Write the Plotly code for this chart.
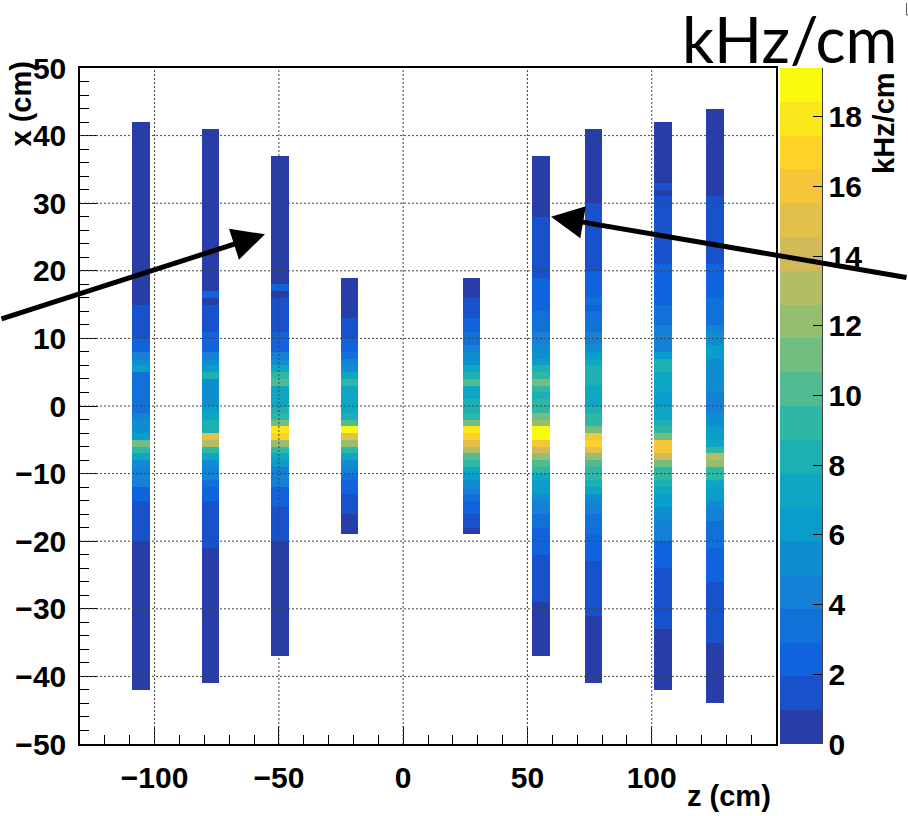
import numpy as np
import plotly.graph_objects as go

# ---- hit-rate map: 2D histogram, z bins of 7 cm (-130..150), x bins of 1 cm (-50..50)
Z_EDGES = np.arange(-130, 151, 7)
X_EDGES = np.arange(-50, 51, 1)

# centre (z, cm) and upper x edge (cm) of each chamber strip
STRIP_Z = [-105.5, -77.5, -49.5, -21.5, 27.5, 55.5, 76.5, 104.5, 125.5]
STRIP_TOP = [42, 41, 37, 19, 19, 37, 41, 42, 44]

# rates in kHz/cm, one value per 1 cm x-bin, listed from the top of the strip downwards
RATE_1 = [0.5] * 27 + [1.5] * 5 + [2.4, 2.4, 4.4, 5.3, 6.3] + [3.4] * 6 + [
    4.4, 5.3, 5.3, 6.3, 11.2, 9.2, 7.3, 5.3, 4.4, 4.4, 4.4, 2.4, 2.4] + [1.5] * 6 + [0.5] * 22
RATE_2 = [0.5] * 24 + [2.4, 0.5] + [1.5] * 4 + [2.4, 2.4, 2.4, 4.4, 5.3, 6.3, 8.2,
    5.3, 5.3, 5.3, 5.3, 6.3, 7.3, 8.2, 8.2, 15.0, 13.1, 9.2, 7.3, 5.3, 4.4, 4.4,
    3.4, 2.4, 2.4] + [1.5] * 7 + [0.5] * 20
RATE_3 = [0.5] * 19 + [2.4, 0.5] + [1.5] * 5 + [2.4, 2.4, 2.4, 4.4, 5.3, 7.3, 9.2,
    10.2, 7.3, 7.3, 7.3, 8.2, 9.2, 11.2, 18.0, 17.0, 12.1, 9.2, 7.3, 6.3, 4.4, 4.4,
    4.4, 2.4, 2.4, 2.4] + [1.5] * 5 + [0.5] * 17
RATE_4 = [0.5] * 6 + [1.5, 1.5, 1.5, 2.4, 2.4, 3.4, 4.4, 5.3, 7.3, 9.2, 7.3, 7.3,
    7.3, 7.3, 8.2, 10.2, 19.0, 15.0, 12.1, 9.2, 7.3, 5.3, 4.4, 3.4, 2.4, 2.4,
    1.5, 1.5, 1.5, 0.5, 0.5, 0.5]
RATE_5 = [0.5, 0.5, 0.5, 1.5, 1.5, 1.5, 2.4, 2.4, 3.4, 3.4, 4.4, 5.3, 5.3, 7.3,
    8.2, 10.2, 7.3, 7.3, 8.2, 8.2, 9.2, 11.2, 18.0, 17.0, 15.0, 13.1, 10.2, 9.2,
    7.3, 6.3, 5.3, 4.4, 3.4, 2.4, 2.4, 1.5, 1.5, 0.5]
RATE_6 = [0.5] * 9 + [1.5] * 9 + [2.4] * 5 + [3.4] * 3 + [4.4, 4.4, 5.3, 5.3, 6.3,
    8.2, 9.2, 11.2, 9.2, 8.2, 9.2, 9.2, 11.2, 12.1, 19.4, 19.1, 16.0, 14.1, 12.1,
    10.2, 9.2, 7.3, 6.3, 6.3, 5.3, 4.4, 4.4, 3.4, 3.4] + [2.4] * 4 + [1.5] * 7 + [0.5] * 8
RATE_7 = [0.5] * 11 + [1.5] * 10 + [2.4] * 4 + [3.4, 2.4, 3.4, 3.4, 3.4, 4.4, 4.4,
    5.3, 6.3, 7.3, 8.2, 8.2, 8.2, 7.3, 7.3, 7.3, 8.2, 9.2, 9.2, 11.2, 16.0, 17.0,
    15.0, 12.1, 10.2, 9.2, 9.2, 8.2, 7.3, 5.3, 4.4, 4.4, 3.4, 3.4, 3.4] + [2.4] * 4 + [
    1.5] * 8 + [0.5] * 10
RATE_8 = [0.5] * 9 + [1.5, 0.5] + [1.5] * 10 + [2.4] * 6 + [3.4] * 3 + [4.4] * 4 + [
    6.3, 8.2, 8.2, 7.3, 7.3, 7.3, 6.3, 6.3, 7.3, 7.3, 8.2, 9.2, 11.2, 16.0, 16.0,
    14.1, 11.2, 9.2, 9.2, 8.2, 7.3, 6.3, 6.3, 5.3, 5.3, 4.4, 4.4, 4.4] + [2.4] * 4 + [
    1.5] * 9 + [0.5] * 9
RATE_9 = [0.5] * 13 + [1.5] * 10 + [2.4] * 5 + [3.4] * 4 + [4.4, 5.3, 5.3, 6.3, 6.3,
    5.3, 5.3, 5.3, 5.3, 5.3, 4.4, 4.4, 4.4, 5.3, 5.3, 6.3, 6.3, 7.3, 9.2, 13.1, 12.1,
    9.2, 9.2, 7.3, 6.3, 6.3, 5.3, 4.4, 4.4, 3.4, 3.4, 3.4, 3.4] + [2.4] * 5 + [
    1.5] * 9 + [0.5] * 9
RATES = [RATE_1, RATE_2, RATE_3, RATE_4, RATE_5, RATE_6, RATE_7, RATE_8, RATE_9]

Z_TICKS = [-100, -50, 0, 50, 100]
X_TICKS = list(range(-50, 51, 10))
CBAR_TICKS = list(range(0, 19, 2))

# ---- fill the histogram
z_cent = (Z_EDGES[:-1] + Z_EDGES[1:]) / 2
x_cent = (X_EDGES[:-1] + X_EDGES[1:]) / 2
H = np.full((len(x_cent), len(z_cent)), np.nan)
for zc, top, vals in zip(STRIP_Z, STRIP_TOP, RATES):
    col = int(np.argmin(np.abs(z_cent - zc)))
    for i, v in enumerate(vals):
        row = int(np.argmin(np.abs(x_cent - (top - 0.5 - i))))
        H[row, col] = v

zmax = float(np.nanmax(H))
NCONT = 20

# ROOT "bird" palette, sampled the way COLZ picks one colour per contour band
bird_stops = [0.0, 0.125, 0.25, 0.375, 0.5, 0.625, 0.75, 0.875, 1.0]
bird_r = [0.2082, 0.0592, 0.0780, 0.0232, 0.1802, 0.5301, 0.8186, 0.9956, 0.9764]
bird_g = [0.1664, 0.3599, 0.5041, 0.6419, 0.7178, 0.7492, 0.7328, 0.7862, 0.9832]
bird_b = [0.5293, 0.8684, 0.8385, 0.7914, 0.6425, 0.4662, 0.3499, 0.1968, 0.0539]


def bird(t):
    r = np.interp(t, bird_stops, bird_r)
    g = np.interp(t, bird_stops, bird_g)
    b = np.interp(t, bird_stops, bird_b)
    return "rgb(%d,%d,%d)" % (round(r * 255), round(g * 255), round(b * 255))


colorscale = []
for k in range(NCONT):
    idx = min(int((k + 0.99) * 255 / NCONT), 254)
    c = bird(idx / 254)
    colorscale.append([k / NCONT, c])
    colorscale.append([(k + 1) / NCONT, c])

W, Hpx = 908, 816
L, R, T, B = 80, 132, 68, 72
pw, ph = W - L - R, Hpx - T - B


def px(xp):
    return (xp - L) / pw


def py(yp):
    return (Hpx - B - yp) / ph


TICKFONT = dict(family="Liberation Sans", size=30, color="black", weight="bold")
TITLEFONT = dict(family="Liberation Sans", size=29, color="black", weight="bold")

fig = go.Figure()
fig.add_trace(go.Heatmap(
    x=z_cent, y=x_cent, z=H,
    zmin=0, zmax=zmax, colorscale=colorscale, zsmooth=False,
    hoverongaps=False,
    colorbar=dict(
        x=px(780), xanchor="left", xref="paper",
        y=0.5, yanchor="middle", yref="paper",
        thickness=42, thicknessmode="pixels",
        len=ph, lenmode="pixels",
        xpad=0, ypad=0, outlinewidth=0,
        tickmode="array", tickvals=CBAR_TICKS,
        ticks="inside", ticklen=9, tickcolor="black", tickwidth=1.2,
        tickfont=TICKFONT,
    ),
))

shapes = []
# dotted grid drawn over the cells
for t in Z_TICKS:
    shapes.append(dict(type="line", xref="x", yref="paper", x0=t, x1=t, y0=0, y1=1,
                       line=dict(color="#444", width=1, dash="2px,2px"), layer="above"))
for t in X_TICKS[1:-1]:
    shapes.append(dict(type="line", xref="paper", yref="y", x0=0, x1=1, y0=t, y1=t,
                       line=dict(color="#444", width=1, dash="2px,2px"), layer="above"))
# right edge of the colour scale
shapes.append(dict(type="line", xref="paper", yref="paper", x0=px(822), x1=px(822),
                   y0=0, y1=1, line=dict(color="black", width=1.5), layer="above"))
# small corner mark at the top right
shapes.append(dict(type="path", xref="paper", yref="paper",
                   path="M %f,%f L %f,%f L %f,%f" % (px(906.5), py(3), px(906.5), py(15), px(909), py(15)),
                   line=dict(color="#555", width=1), layer="above"))

annotations = [
    dict(text="z (cm)", xref="paper", yref="paper", x=px(773), y=py(796),
         xanchor="right", yanchor="middle", showarrow=False, font=TITLEFONT),
    dict(text="x (cm)", xref="paper", yref="paper", x=px(21), y=py(60),
         xanchor="center", yanchor="top", textangle=-90, showarrow=False, font=TITLEFONT),
    dict(text="kHz/cm", xref="paper", yref="paper", x=px(884), y=py(70),
         xanchor="center", yanchor="top", textangle=-90, showarrow=False, font=TITLEFONT),
    dict(text="kHz/cm", xref="paper", yref="paper", x=px(680), y=py(38),
         xanchor="left", yanchor="middle", showarrow=False,
         font=dict(family="Lato", size=63, color="black")),
    # arrows pointing at the two marked chambers
    dict(text="", x=-55.6, y=25.4, xref="x", yref="y", showarrow=True,
         ax=-268, ay=85, arrowhead=2, arrowsize=1.3, arrowwidth=5, arrowcolor="black",
         standoff=0),
    dict(text="", x=59.5, y=28.0, xref="x", yref="y", showarrow=True,
         ax=362, ay=61, arrowhead=2, arrowsize=1.3, arrowwidth=5, arrowcolor="black",
         standoff=0),
]

fig.update_layout(
    width=W, height=Hpx,
    margin=dict(l=L, r=R, t=T, b=B, pad=0),
    paper_bgcolor="white", plot_bgcolor="white",
    showlegend=False,
    shapes=shapes, annotations=annotations,
    xaxis=dict(
        range=[Z_EDGES[0], Z_EDGES[-1]], tickmode="array", tickvals=Z_TICKS,
        ticks="inside", ticklen=18, tickwidth=1, tickcolor="black",
        minor=dict(dtick=10, tick0=0, ticks="inside", ticklen=9, tickcolor="black", showgrid=False),
        showgrid=False, zeroline=False, showline=True, linecolor="black", linewidth=1.5,
        mirror=True, tickfont=TICKFONT, ticklabelstandoff=6,
    ),
    yaxis=dict(
        range=[X_EDGES[0], X_EDGES[-1]], tickmode="array", tickvals=X_TICKS,
        ticks="inside", ticklen=18, tickwidth=1, tickcolor="black",
        minor=dict(dtick=2, tick0=0, ticks="inside", ticklen=9, tickcolor="black", showgrid=False),
        showgrid=False, zeroline=False, showline=True, linecolor="black", linewidth=1.5,
        mirror=True, tickfont=TICKFONT, ticklabelstandoff=6,
    ),
)

fig.write_html("out.html")
